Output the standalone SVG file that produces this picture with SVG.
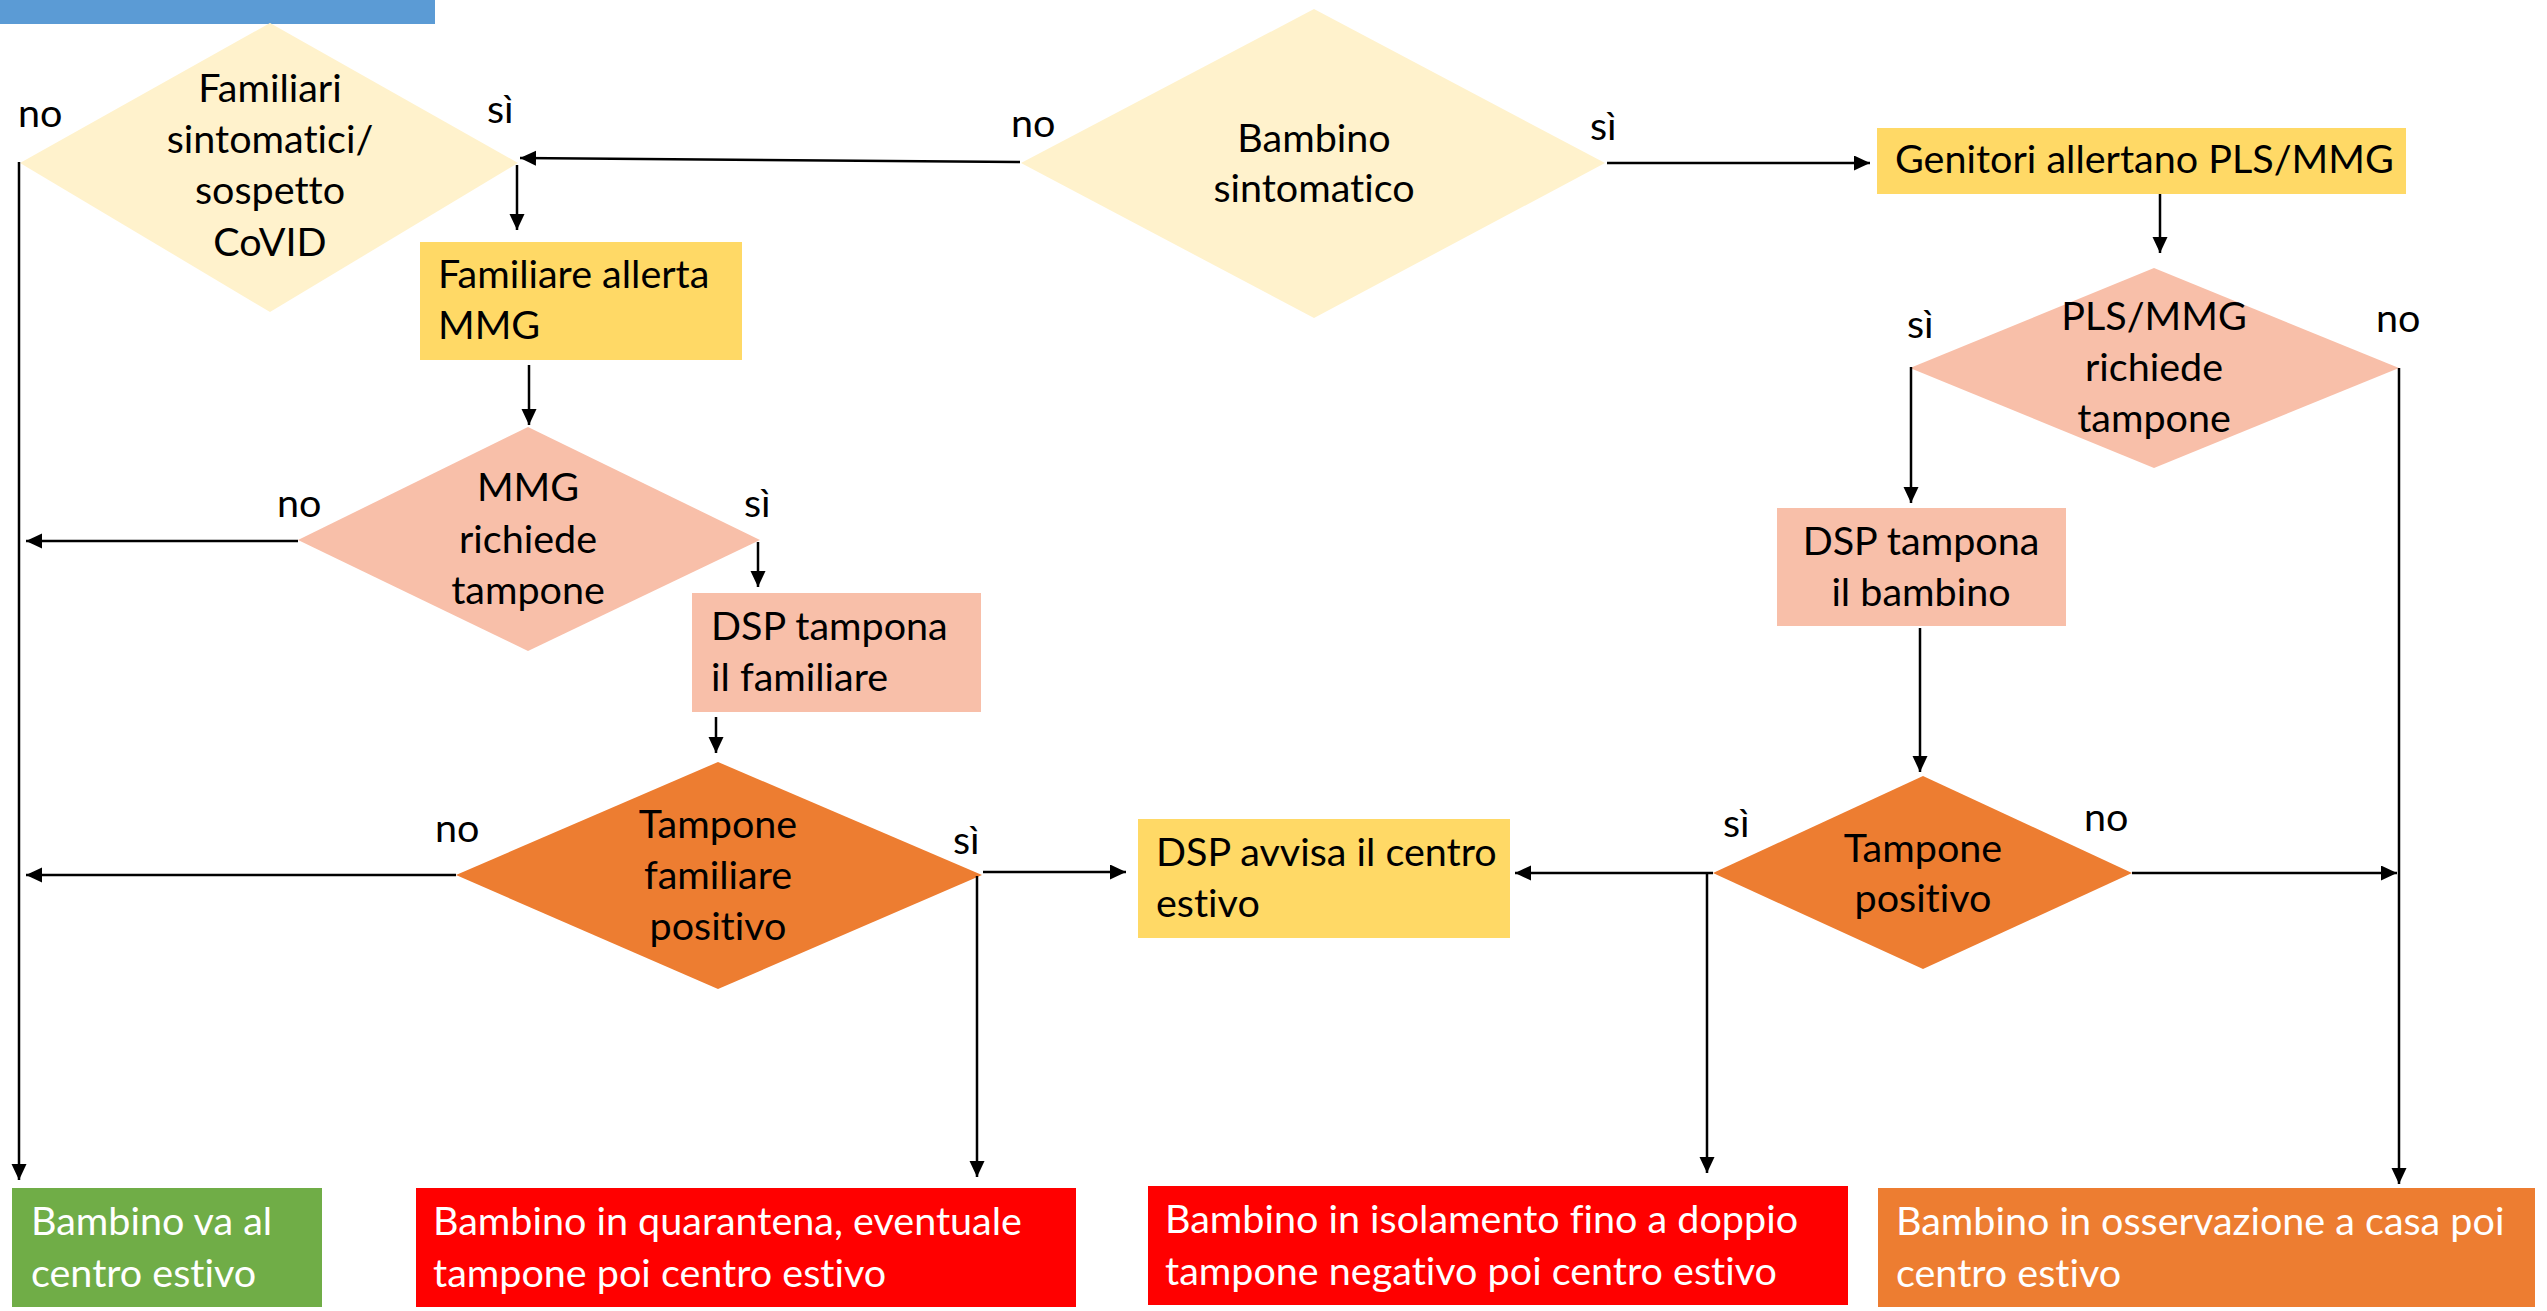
<svg xmlns="http://www.w3.org/2000/svg" width="2547" height="1311" viewBox="0 0 2547 1311">
<style>
  text { font-family: Lato, "Open Sans", sans-serif; font-size: 39.5px; fill: #000; font-variant-ligatures: none; font-feature-settings: "liga" 0, "clig" 0; }
  .c { text-anchor: middle; }
  .w { fill: #fff; }
  .ly { fill: #FFF2CC; }
  .y { fill: #FFD966; }
  .s { fill: #F8BFA9; }
  .o { fill: #ED7D31; }
  .g { fill: #70AD47; }
  .r { fill: #FF0000; }
  .ln { stroke: #000; stroke-width: 2.5; fill: none; }
  .ar { stroke: #000; stroke-width: 2.5; fill: none; marker-end: url(#ah); }
</style>
<defs>
  <marker id="ah" markerUnits="userSpaceOnUse" markerWidth="16" markerHeight="16" refX="16" refY="7.5" orient="auto">
    <path d="M0,0 L16,7.5 L0,15 z" fill="#000"/>
  </marker>
</defs>
<rect width="2547" height="1311" fill="#fff"/>
<rect id="title-bar" x="0" y="0" width="435" height="24" fill="#5B9BD5"/>

<g id="n-familiari">
  <polygon class="ly" points="270,23 518,163 270,312 20,163"/>
  <text class="c" x="270" y="102">Familiari</text>
  <text class="c" x="270" y="153">sintomatici/</text>
  <text class="c" x="270" y="204">sospetto</text>
  <text class="c" x="270" y="256">CoVID</text>
</g>
<g id="n-bambino">
  <polygon class="ly" points="1314,9 1605,163 1314,318 1021,163"/>
  <text class="c" x="1314" y="152">Bambino</text>
  <text class="c" x="1314" y="202">sintomatico</text>
</g>
<g id="n-genitori">
  <rect class="y" x="1877" y="128" width="529" height="66"/>
  <text x="1895" y="173">Genitori allertano PLS/MMG</text>
</g>
<g id="n-pls">
  <polygon class="s" points="2154,268 2399,368 2154,468 1910,368"/>
  <text class="c" x="2154" y="330">PLS/MMG</text>
  <text class="c" x="2154" y="381">richiede</text>
  <text class="c" x="2154" y="432">tampone</text>
</g>
<g id="n-familiare-allerta">
  <rect class="y" x="420" y="242" width="322" height="118"/>
  <text x="438" y="288">Familiare allerta</text>
  <text x="438" y="339">MMG</text>
</g>
<g id="n-mmg">
  <polygon class="s" points="528,427 760,540 528,651 298,540"/>
  <text class="c" x="528" y="501">MMG</text>
  <text class="c" x="528" y="553">richiede</text>
  <text class="c" x="528" y="604">tampone</text>
</g>
<g id="n-dsp-familiare">
  <rect class="s" x="692" y="593" width="289" height="119"/>
  <text x="711" y="640">DSP tampona</text>
  <text x="711" y="691">il familiare</text>
</g>
<g id="n-dsp-bambino">
  <rect class="s" x="1777" y="508" width="289" height="118"/>
  <text class="c" x="1921" y="555">DSP tampona</text>
  <text class="c" x="1921" y="606">il bambino</text>
</g>
<g id="n-tampone-familiare">
  <polygon class="o" points="718,762 982,875 718,989 456,875"/>
  <text class="c" x="718" y="838">Tampone</text>
  <text class="c" x="718" y="889">familiare</text>
  <text class="c" x="718" y="940">positivo</text>
</g>
<g id="n-dsp-avvisa">
  <rect class="y" x="1138" y="819" width="372" height="119"/>
  <text x="1156" y="866">DSP avvisa il centro</text>
  <text x="1156" y="917">estivo</text>
</g>
<g id="n-tampone-positivo">
  <polygon class="o" points="1923,776 2132,873 1923,969 1713,873"/>
  <text class="c" x="1923" y="862">Tampone</text>
  <text class="c" x="1923" y="912">positivo</text>
</g>
<g id="n-va">
  <rect class="g" x="12" y="1188" width="310" height="119"/>
  <text class="w" x="31" y="1235">Bambino va al</text>
  <text class="w" x="31" y="1287">centro estivo</text>
</g>
<g id="n-quarantena">
  <rect class="r" x="416" y="1188" width="660" height="119"/>
  <text class="w" x="433" y="1235">Bambino in quarantena, eventuale</text>
  <text class="w" x="433" y="1287">tampone poi centro estivo</text>
</g>
<g id="n-isolamento">
  <rect class="r" x="1148" y="1186" width="700" height="119"/>
  <text class="w" x="1165" y="1233">Bambino in isolamento fino a doppio</text>
  <text class="w" x="1165" y="1285">tampone negativo poi centro estivo</text>
</g>
<g id="n-osservazione">
  <rect class="o" x="1878" y="1188" width="657" height="119"/>
  <text class="w" x="1896" y="1235">Bambino in osservazione a casa poi</text>
  <text class="w" x="1896" y="1287">centro estivo</text>
</g>

<g id="connectors">
  <path class="ar" d="M1020,162 L520,158"/>
  <path class="ar" d="M1607,163 L1870,163"/>
  <path class="ar" d="M517,165 L517,230"/>
  <path class="ar" d="M19,162 L19,1180"/>
  <path class="ar" d="M529,365 L529,425"/>
  <path class="ar" d="M298,541 L26,541"/>
  <path class="ar" d="M758,542 L758,587"/>
  <path class="ar" d="M716,717 L716,753"/>
  <path class="ar" d="M456,875 L26,875"/>
  <path class="ar" d="M983,872 L1126,872"/>
  <path class="ar" d="M977,876 L977,1177"/>
  <path class="ar" d="M2160,194 L2160,253"/>
  <path class="ar" d="M1911,367 L1911,503"/>
  <path class="ar" d="M2399,368 L2399,1184"/>
  <path class="ar" d="M1920,628 L1920,772"/>
  <path class="ar" d="M1713,873 L1515,873"/>
  <path class="ar" d="M1707,873 L1707,1173"/>
  <path class="ar" d="M2132,873 L2397,873"/>
</g>

<g id="labels">
  <text x="18" y="127">no</text>
  <text x="487" y="123">sì</text>
  <text x="1011" y="137">no</text>
  <text x="1590" y="140">sì</text>
  <text x="1907" y="338">sì</text>
  <text x="2376" y="332">no</text>
  <text x="277" y="517">no</text>
  <text x="744" y="517">sì</text>
  <text x="435" y="842">no</text>
  <text x="953" y="854">sì</text>
  <text x="1723" y="837">sì</text>
  <text x="2084" y="831">no</text>
</g>
</svg>
